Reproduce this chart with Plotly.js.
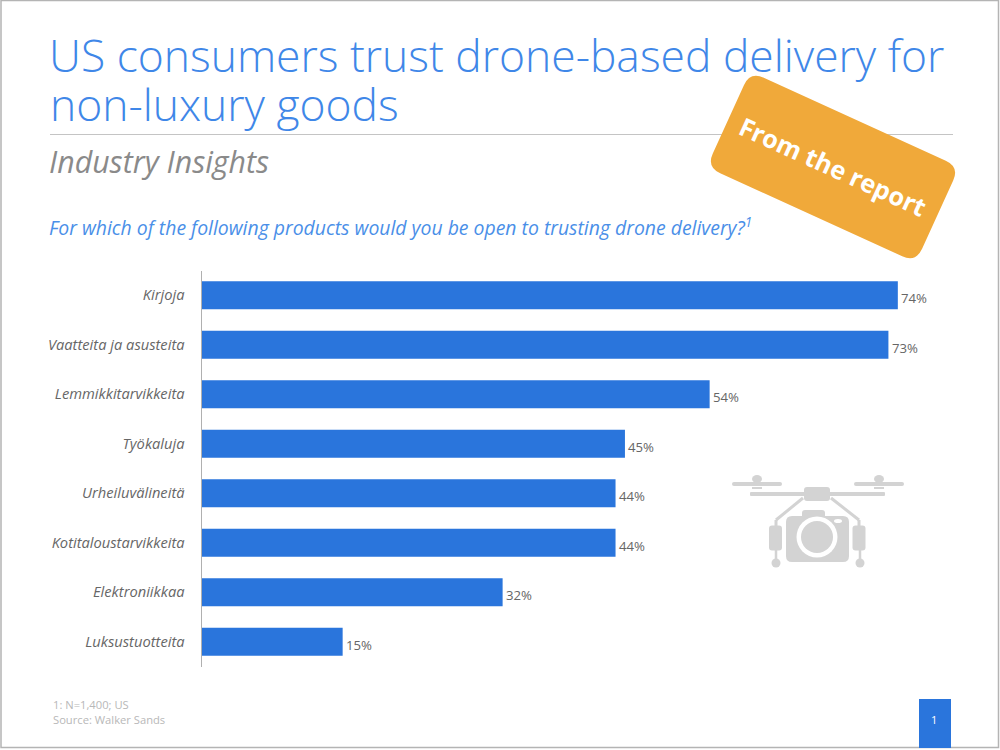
<!DOCTYPE html>
<html>
<head>
<meta charset="utf-8">
<script src="https://cdn.plot.ly/plotly-3.0.1.min.js"></script>
<style>html,body{margin:0;padding:0;background:#fff}#chart{width:1000px;height:750px}</style>
</head>
<body>
<div id="chart"></div>
<script>
const categories = ["Kirjoja","Vaatteita ja asusteita","Lemmikkitarvikkeita","Työkaluja","Urheiluvälineitä","Kotitaloustarvikkeita","Elektroniikkaa","Luksustuotteita"];
const values = [74,73,54,45,44,44,32,15];
const valueLabels = ["74%","73%","54%","45%","44%","44%","32%","15%"];
const titleLine1 = "US consumers trust drone-based delivery for";
const titleLine2 = "non-luxury goods";
const subtitle = "Industry Insights";
const question = "For which of the following products would you be open to trusting drone delivery?<sup>1</sup>";
const footnote1 = "1: N=1,400; US";
const footnote2 = "Source: Walker Sands";
const badgeText = "From the report";

const W = 1000, H = 750;
const fx = x => x / W, fy = y => 1 - y / H;
const FONT = '"Open Sans", sans-serif';
const BLUE = '#2a75dc', TITLE = '#3f87e8', GREY = '#d3d3d3';

const P = (x, y) => fx(x).toFixed(5) + ',' + fy(y).toFixed(5);
function rectShape(x0, y0, x1, y1, color) {
  return {type:'rect', xref:'paper', yref:'paper', x0:fx(x0), x1:fx(x1), y0:fy(y0), y1:fy(y1),
          fillcolor:color, line:{width:0}, layer:'above'};
}
function lineShape(x0, y0, x1, y1, color, w) {
  return {type:'line', xref:'paper', yref:'paper', x0:fx(x0), x1:fx(x1), y0:fy(y0), y1:fy(y1),
          line:{color:color, width:w}, layer:'above'};
}
function circleShape(cx, cy, rx, ry, color) {
  return {type:'circle', xref:'paper', yref:'paper', x0:fx(cx-rx), x1:fx(cx+rx), y0:fy(cy-ry), y1:fy(cy+ry),
          fillcolor:color, line:{width:0}, layer:'above'};
}
function roundRect(cx, cy, w, h, r, deg, color) {
  const a = deg * Math.PI / 180, c = Math.cos(a), s = Math.sin(a);
  const t = (u, v) => P(cx + u*c - v*s, cy + u*s + v*c);
  const hw = w/2, hh = h/2;
  const d = 'M' + t(-hw+r,-hh) + ' L' + t(hw-r,-hh) + ' Q' + t(hw,-hh) + ' ' + t(hw,-hh+r) +
            ' L' + t(hw,hh-r) + ' Q' + t(hw,hh) + ' ' + t(hw-r,hh) +
            ' L' + t(-hw+r,hh) + ' Q' + t(-hw,hh) + ' ' + t(-hw,hh-r) +
            ' L' + t(-hw,-hh+r) + ' Q' + t(-hw,-hh) + ' ' + t(-hw+r,-hh) + ' Z';
  return {type:'path', xref:'paper', yref:'paper', path:d, fillcolor:color, line:{width:0}, layer:'above'};
}
function textNote(text, x, y, size, color, extra) {
  return Object.assign({text:text, xref:'paper', yref:'paper', x:fx(x), y:fy(y), xanchor:'left', yanchor:'middle',
    showarrow:false, font:{family:FONT, size:size, color:color}}, extra || {});
}

const shapes = [
  // slide frame
  {type:'rect', xref:'paper', yref:'paper', x0:fx(1), x1:fx(998.5), y0:fy(0.5), y1:fy(747.5), line:{color:'#b4b4b4', width:1.5}, layer:'below'},
  // rule below the title
  lineShape(50,134.5,953,134.5,'#c4c4c4',1.2),
  // badge
  roundRect(833,167,230,105,15,24.5,'#f0a93a'),
  // page number box
  rectShape(919,699,951,748,BLUE),
  // drone
  roundRect(757,484,50,4,2,0,GREY), roundRect(879,484,50,4,2,0,GREY),
  circleShape(757,479,5,4,GREY), circleShape(879,479,5,4,GREY),
  rectShape(752,487,762,489,GREY), rectShape(874,487,884,489,GREY),
  roundRect(817.5,494,135,4,1,0,GREY),
  roundRect(817,494,26,14,3,0,GREY),
  lineShape(803,498,776,520,GREY,3), lineShape(776,520,776,527,GREY,3),
  lineShape(831,498,859,520,GREY,3), lineShape(859,520,859,527,GREY,3),
  roundRect(775.5,538,13,25,3,0,GREY), roundRect(859,538,13,25,3,0,GREY),
  lineShape(776,550,776,560,GREY,2.5), lineShape(860,550,860,560,GREY,2.5),
  circleShape(776,563,4.5,4.5,GREY), circleShape(860,563,4.5,4.5,GREY),
  roundRect(813.5,515,23,10,3,0,GREY),
  roundRect(817.5,539,63,46,6,0,GREY),
  circleShape(817,537,20.5,20.5,'#ffffff'), circleShape(817,537,16,16,GREY),
  circleShape(838,521,4,2,'#ffffff')
];

const annotations = [
  textNote(titleLine2, 48, 104.5, 44.4, TITLE, {font:{family:FONT, size:44.4, color:TITLE, weight:300}}),
  textNote(subtitle, 47, 162, 30.3, '#8a8a8a', {font:{family:FONT, size:30.3, color:'#8a8a8a', style:'italic'}}),
  textNote(question, 47, 227, 19.4, '#4a8fe8', {font:{family:FONT, size:19.4, color:'#4a8fe8', style:'italic'}}),
  textNote(footnote1, 51, 704, 11.2, '#b8b8b8'),
  textNote(footnote2, 51, 719, 11.2, '#b8b8b8'),
  textNote('1', 934, 719, 11, '#ffffff', {xanchor:'center'}),
  textNote(badgeText, 832.5, 166, 25.3, '#ffffff', {xanchor:'center', textangle:24.5, font:{family:FONT, size:25.3, color:'#ffffff', weight:700}})
].concat(categories.map((c, i) => ({
  xref:'x', yref:'y', x:values[i], y:c, text:valueLabels[i], showarrow:false,
  xanchor:'left', yanchor:'middle', xshift:1.5, yshift:-3,
  font:{family:FONT, size:13.2, color:'#666666'}
})));

const trace = {
  type:'bar', orientation:'h', y:categories, x:values,
  cliponaxis:false,
  marker:{color:BLUE, line:{width:0}}, hoverinfo:'skip', width:0.565
};

const layout = {
  width:W, height:H, autosize:false,
  margin:{l:0,r:0,t:0,b:0,pad:0},
  paper_bgcolor:'#ffffff', plot_bgcolor:'#ffffff', showlegend:false,
  title:{text:titleLine1, x:fx(49), xref:'paper', xanchor:'left', y:fy(56), yref:'paper', yanchor:'middle',
         font:{family:FONT, size:44.4, color:TITLE, weight:300}},
  xaxis:{domain:[fx(201.5), fx(951)], range:[0,79.65], visible:false, fixedrange:true},
  yaxis:{domain:[fy(666.5), fy(270.5)], type:'category', categoryorder:'array', categoryarray:categories,
         range:[7.5,-0.5], automargin:false, showline:true, linecolor:'#b0b0b0', linewidth:1, showgrid:false, zeroline:false,
         ticks:'outside', ticklen:13, tickcolor:'rgba(0,0,0,0)',
         tickfont:{family:FONT, size:14.7, color:'#666666', style:'italic'}, fixedrange:true},
  shapes:shapes, annotations:annotations
};
Plotly.newPlot('chart',[trace],layout,{displayModeBar:false,staticPlot:true});
</script>
</body>
</html>
